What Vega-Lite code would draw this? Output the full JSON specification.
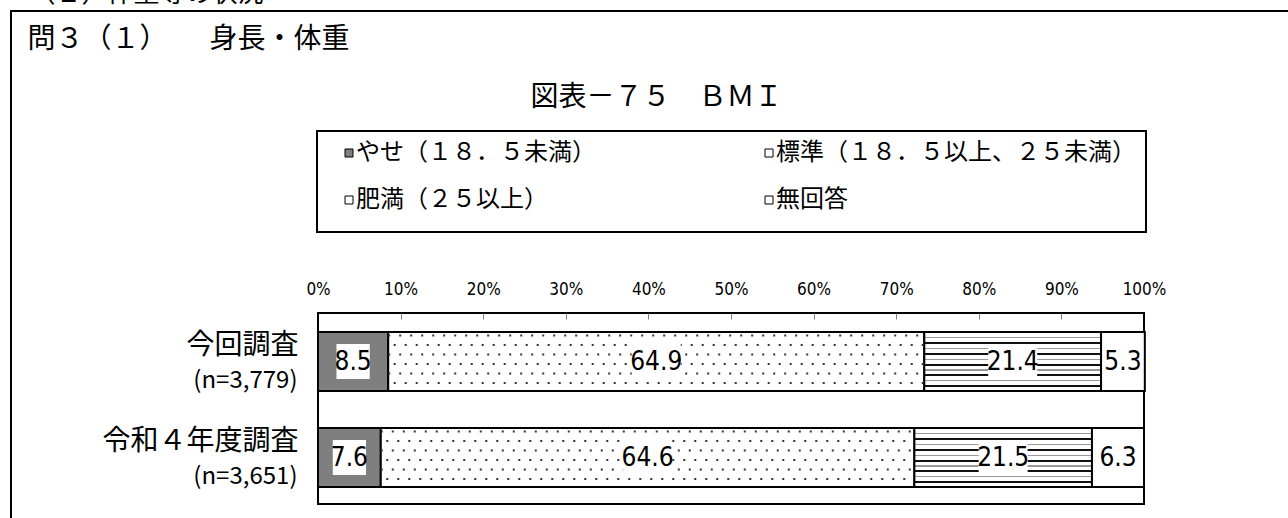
{
  "$schema": "https://vega.github.io/schema/vega-lite/v6.json",
  "width": 1290,
  "height": 520,
  "autosize": {"type": "none"},
  "padding": {"left": 11, "top": 11, "right": 0, "bottom": 0},
  "background": "white",
  "config": {
    "view": {"stroke": "black", "strokeWidth": 2},
    "font": "Noto Sans CJK JP",
    "legend": {"strokeWidth": 2}
  },
  "data": {"values": [
    {"group": "今回調査", "n": "(n=3,779)", "cat": "やせ（１８．５未満）", "ord": 1, "value": 8.5},
    {"group": "今回調査", "n": "(n=3,779)", "cat": "標準（１８．５以上、２５未満）", "ord": 2, "value": 64.9},
    {"group": "今回調査", "n": "(n=3,779)", "cat": "肥満（２５以上）", "ord": 3, "value": 21.4},
    {"group": "今回調査", "n": "(n=3,779)", "cat": "無回答", "ord": 4, "value": 5.3},
    {"group": "令和４年度調査", "n": "(n=3,651)", "cat": "やせ（１８．５未満）", "ord": 1, "value": 7.6},
    {"group": "令和４年度調査", "n": "(n=3,651)", "cat": "標準（１８．５以上、２５未満）", "ord": 2, "value": 64.6},
    {"group": "令和４年度調査", "n": "(n=3,651)", "cat": "肥満（２５以上）", "ord": 3, "value": 21.5},
    {"group": "令和４年度調査", "n": "(n=3,651)", "cat": "無回答", "ord": 4, "value": 6.3}
  ]},
  "transform": [
    {"stack": "value", "groupby": ["group"], "sort": [{"field": "ord", "order": "ascending"}], "as": ["x0", "x1"]}
  ],
  "encoding": {
    "y": {"field": "group", "type": "nominal", "sort": ["今回調査", "令和４年度調査"], "scale": {"type": "band", "range": [302, 493], "paddingInner": 0.3854, "paddingOuter": 0.1875, "align": 0.528, "round": false}, "axis": null}
  },
  "resolve": {"scale": {"y": "independent", "x": "independent"}},
  "layer": [
    {
      "data": {"values": [{}]},
      "mark": {"type": "rect", "filled": false, "stroke": "black", "strokeWidth": 2},
      "encoding": {
        "y": {"datum": "frame", "type": "nominal", "scale": {"type": "band", "range": [302, 493], "paddingInner": 0, "paddingOuter": 0, "round": false}, "axis": null},
        "x": {"datum": 0, "type": "quantitative", "scale": {"domain": [0, 100], "range": [307, 1133], "nice": false, "zero": false},
          "axis": {"orient": "top", "offset": -302, "values": [0, 10, 20, 30, 40, 50, 60, 70, 80, 90, 100], "labelExpr": "datum.value + '%'", "labelFont": "Liberation Sans Narrow, Arial Narrow, DejaVu Sans Condensed, sans-serif", "labelFontSize": 17, "labelColor": "black", "labelPadding": 15, "labelFlush": false, "labelOverlap": false, "ticks": false, "domain": false, "grid": false,
            "title": "図表－７５　ＢＭＩ", "titleX": 645, "titleY": -215.5, "titleAlign": "center", "titleBaseline": "middle", "titleFontSize": 28, "titleFontWeight": "normal", "titleColor": "black", "titleFont": "Noto Sans CJK JP"}},
        "x2": {"datum": 100}
      }
    },
    {
      "mark": {"type": "bar", "stroke": "black", "strokeWidth": 2},
      "encoding": {
        "y": {"field": "group", "type": "nominal", "sort": ["今回調査", "令和４年度調査"], "scale": {"type": "band", "range": [302, 493], "paddingInner": 0.3854, "paddingOuter": 0.1875, "align": 0.528, "round": false},
          "axis": {"orient": "left", "offset": -307, "domain": false, "ticks": false, "labelPadding": 20, "labelOffset": -15.5, "labelFontSize": 28, "labelFont": "Noto Sans CJK JP", "labelColor": "black", "labelLimit": 400,
            "title": "問３（１）　　身長・体重", "titleAngle": 0, "titleX": -291, "titleY": 28, "titleAlign": "left", "titleBaseline": "middle", "titleFontSize": 28, "titleFontWeight": "normal", "titleColor": "black", "titleFont": "Noto Sans CJK JP"}},
        "x": {"field": "x0", "type": "quantitative", "scale": {"domain": [0, 100], "range": [307, 1133], "nice": false, "zero": false},
          "axis": {"orient": "bottom", "offset": -218, "zindex": 1, "values": [10, 20, 30, 40, 50, 60, 70, 80, 90], "labels": false, "ticks": true, "tickSize": 6, "tickColor": "#808080", "tickWidth": 1, "domain": false, "grid": false, "title": null}},
        "x2": {"field": "x1"},
        "fill": {
          "condition": {"test": "datum.cat === '肥満（２５以上）'", "value": {"gradient": "linear", "x1": 0, "y1": 0, "x2": 0, "y2": 1, "stops": [
            {"offset": 0, "color": "white"},
            {"offset": 0.081, "color": "white"}, {"offset": 0.081, "color": "#999999"}, {"offset": 0.105, "color": "#999999"}, {"offset": 0.105, "color": "white"},
            {"offset": 0.162, "color": "white"}, {"offset": 0.162, "color": "#111111"}, {"offset": 0.2, "color": "#111111"}, {"offset": 0.2, "color": "white"},
            {"offset": 0.268, "color": "white"}, {"offset": 0.268, "color": "#999999"}, {"offset": 0.292, "color": "#999999"}, {"offset": 0.292, "color": "white"},
            {"offset": 0.359, "color": "white"}, {"offset": 0.359, "color": "#111111"}, {"offset": 0.397, "color": "#111111"}, {"offset": 0.397, "color": "white"},
            {"offset": 0.454, "color": "white"}, {"offset": 0.454, "color": "#999999"}, {"offset": 0.478, "color": "#999999"}, {"offset": 0.478, "color": "white"},
            {"offset": 0.54, "color": "white"}, {"offset": 0.54, "color": "#111111"}, {"offset": 0.578, "color": "#111111"}, {"offset": 0.578, "color": "white"},
            {"offset": 0.632, "color": "white"}, {"offset": 0.632, "color": "#999999"}, {"offset": 0.656, "color": "#999999"}, {"offset": 0.656, "color": "white"},
            {"offset": 0.71, "color": "white"}, {"offset": 0.71, "color": "#111111"}, {"offset": 0.748, "color": "#111111"}, {"offset": 0.748, "color": "white"},
            {"offset": 0.81, "color": "white"}, {"offset": 0.81, "color": "#999999"}, {"offset": 0.834, "color": "#999999"}, {"offset": 0.834, "color": "white"},
            {"offset": 0.896, "color": "white"}, {"offset": 0.896, "color": "#111111"}, {"offset": 0.934, "color": "#111111"}, {"offset": 0.934, "color": "white"},
            {"offset": 1, "color": "white"}
          ]}},
          "field": "cat", "type": "nominal",
          "scale": {"domain": ["やせ（１８．５未満）", "標準（１８．５以上、２５未満）", "肥満（２５以上）", "無回答"], "range": ["#7f7f7f", "white", "white", "white"]},
          "legend": {"orient": "none", "legendX": 306, "legendY": 120, "direction": "horizontal", "columns": 2, "title": " ", "titleOrient": "bottom", "titleFontSize": 8, "titlePadding": 2, "symbolType": "square", "symbolSize": 64, "symbolStrokeColor": "black", "symbolStrokeWidth": 1, "symbolOffset": 10, "labelFontSize": 24, "labelFont": "Noto Sans CJK JP", "labelColor": "black", "labelLimit": 600, "labelOffset": -5, "columnPadding": 151, "rowPadding": 23, "padding": 10, "strokeColor": "black"}
        }
      }
    },
    {
      "mark": {"type": "rule", "strokeWidth": 2, "strokeDash": [2, 9], "yOffset": -26},
      "encoding": {
        "x": {"field": "x0", "type": "quantitative", "scale": {"domain": [0, 100], "range": [307, 1133], "nice": false, "zero": false}, "axis": null},
        "x2": {"field": "x1"},
        "stroke": {"condition": {"test": "datum.cat === '標準（１８．５以上、２５未満）'", "value": "#333333"}, "value": "transparent"}
      }
    },
    {
      "mark": {"type": "rule", "strokeWidth": 2, "strokeDash": [2, 9], "strokeDashOffset": 5.5, "yOffset": -16.5},
      "encoding": {
        "x": {"field": "x0", "type": "quantitative", "scale": {"domain": [0, 100], "range": [307, 1133], "nice": false, "zero": false}, "axis": null},
        "x2": {"field": "x1"},
        "stroke": {"condition": {"test": "datum.cat === '標準（１８．５以上、２５未満）'", "value": "#333333"}, "value": "transparent"}
      }
    },
    {
      "mark": {"type": "rule", "strokeWidth": 2, "strokeDash": [2, 9], "yOffset": -7},
      "encoding": {
        "x": {"field": "x0", "type": "quantitative", "scale": {"domain": [0, 100], "range": [307, 1133], "nice": false, "zero": false}, "axis": null},
        "x2": {"field": "x1"},
        "stroke": {"condition": {"test": "datum.cat === '標準（１８．５以上、２５未満）'", "value": "#333333"}, "value": "transparent"}
      }
    },
    {
      "mark": {"type": "rule", "strokeWidth": 2, "strokeDash": [2, 9], "strokeDashOffset": 5.5, "yOffset": 2.5},
      "encoding": {
        "x": {"field": "x0", "type": "quantitative", "scale": {"domain": [0, 100], "range": [307, 1133], "nice": false, "zero": false}, "axis": null},
        "x2": {"field": "x1"},
        "stroke": {"condition": {"test": "datum.cat === '標準（１８．５以上、２５未満）'", "value": "#333333"}, "value": "transparent"}
      }
    },
    {
      "mark": {"type": "rule", "strokeWidth": 2, "strokeDash": [2, 9], "yOffset": 12},
      "encoding": {
        "x": {"field": "x0", "type": "quantitative", "scale": {"domain": [0, 100], "range": [307, 1133], "nice": false, "zero": false}, "axis": null},
        "x2": {"field": "x1"},
        "stroke": {"condition": {"test": "datum.cat === '標準（１８．５以上、２５未満）'", "value": "#333333"}, "value": "transparent"}
      }
    },
    {
      "mark": {"type": "rule", "strokeWidth": 2, "strokeDash": [2, 9], "strokeDashOffset": 5.5, "yOffset": 21.5},
      "encoding": {
        "x": {"field": "x0", "type": "quantitative", "scale": {"domain": [0, 100], "range": [307, 1133], "nice": false, "zero": false}, "axis": null},
        "x2": {"field": "x1"},
        "stroke": {"condition": {"test": "datum.cat === '標準（１８．５以上、２５未満）'", "value": "#333333"}, "value": "transparent"}
      }
    },
    {
      "mark": {"type": "point", "filled": true, "fill": "white", "opacity": 1, "strokeWidth": 0},
      "encoding": {
        "x": {"field": "value", "type": "quantitative", "stack": "zero", "bandPosition": 0.5, "scale": {"domain": [0, 100], "range": [307, 1133], "nice": false, "zero": false}, "axis": null},
        "detail": {"field": "cat"},
        "order": {"field": "ord"},
        "size": {"value": 1225},
        "shape": {"condition": {"test": "datum.value >= 10", "value": "M-1.4,-1H1.4V1H-1.4Z"}, "value": "M-0.95,-1H0.95V1H-0.95Z"}
      }
    },
    {
      "mark": {"type": "text", "font": "Liberation Sans Narrow, Arial Narrow, DejaVu Sans Condensed, sans-serif", "fontSize": 26, "color": "black", "align": "center", "baseline": "middle"},
      "encoding": {
        "y": {"field": "n", "type": "nominal", "sort": ["(n=3,779)", "(n=3,651)"], "scale": {"type": "band", "range": [302, 493], "paddingInner": 0.3854, "paddingOuter": 0.1875, "align": 0.528, "round": false},
          "axis": {"orient": "left", "offset": -307, "domain": false, "ticks": false, "labelPadding": 21, "labelOffset": 19, "labelFontSize": 24, "labelFont": "Noto Sans CJK JP", "labelColor": "black", "labelLimit": 400,
            "title": "（１）体重等の状況", "titleAngle": 0, "titleX": -289, "titleY": -18, "titleAlign": "left", "titleBaseline": "middle", "titleFontSize": 26, "titleFontWeight": "normal", "titleColor": "black", "titleFont": "Noto Sans CJK JP"}},
        "x": {"field": "value", "type": "quantitative", "stack": "zero", "bandPosition": 0.5, "scale": {"domain": [0, 100], "range": [307, 1133], "nice": false, "zero": false}, "axis": null},
        "detail": {"field": "cat"},
        "order": {"field": "ord"},
        "text": {"field": "value", "type": "quantitative", "format": ".1f"}
      }
    }
  ]
}
